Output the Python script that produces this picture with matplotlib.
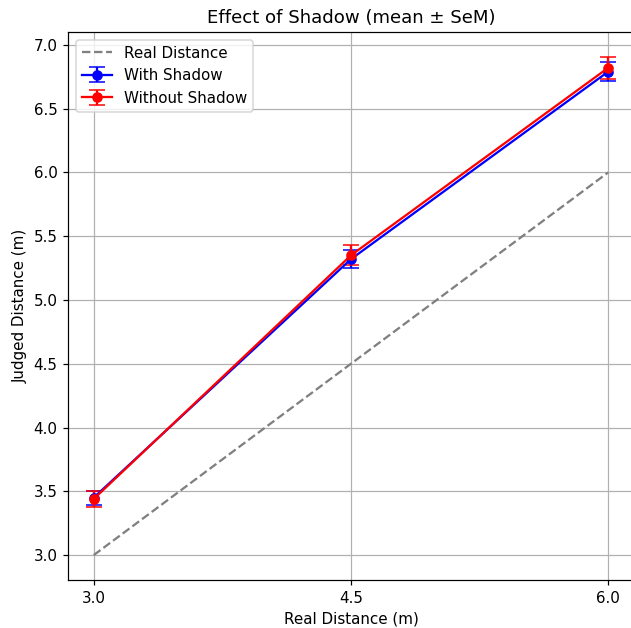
import matplotlib.pyplot as plt
import numpy as np

distances = [3.0, 4.5, 6.0]
with_shadow = [3.45, 5.32, 6.79]
with_shadow_sem = [0.055, 0.07, 0.075]
without_shadow = [3.44, 5.35, 6.82]
without_shadow_sem = [0.06, 0.08, 0.085]

dpi = 109
fig = plt.figure(figsize=(631 / dpi, 628 / dpi), dpi=dpi)
# the right spine falls just outside the picture, as in the reference
ax = fig.add_axes([68 / 631, 1 - 580 / 628, 566 / 631, 548 / 628])

ax.plot(distances, distances, '--', color='gray', label='Real Distance')
ax.errorbar(distances, with_shadow, yerr=with_shadow_sem, fmt='-o', color='blue',
            capsize=5, label='With Shadow')
ax.errorbar(distances, without_shadow, yerr=without_shadow_sem, fmt='-o', color='red',
            capsize=5, label='Without Shadow')

ax.set_xticks(distances)
ax.set_xlabel("Real Distance (m)")
ax.set_ylabel("Judged Distance (m)")
ax.set_title("Effect of Shadow (mean \u00b1 SeM)")
ax.grid(True)
ax.legend(loc='upper left')
fig.savefig("out.png", dpi=dpi)
